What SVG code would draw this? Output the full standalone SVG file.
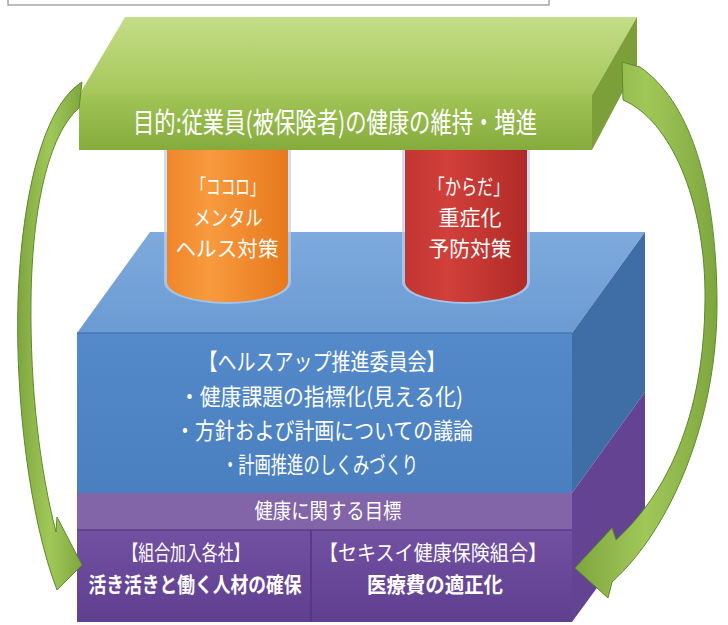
<svg xmlns="http://www.w3.org/2000/svg" width="728" height="625" viewBox="0 0 728 625">
<style>
.t{font-family:"Noto Sans CJK JP","Noto Sans",sans-serif;fill:#fff;text-anchor:middle;}
.b{font-weight:bold;}
.arrow{stroke:#5d8a2c;stroke-width:1;}
</style>
<defs>
<linearGradient id="gTop" x1="0" y1="0" x2="0" y2="1"><stop offset="0" stop-color="#c4dd88"/><stop offset="1" stop-color="#a6c65a"/></linearGradient>
<linearGradient id="gFront" x1="0" y1="0" x2="0" y2="1"><stop offset="0" stop-color="#a0c455"/><stop offset="1" stop-color="#86ab3d"/></linearGradient>
<linearGradient id="gOr" x1="0" y1="0" x2="1" y2="0"><stop offset="0" stop-color="#f0862a"/><stop offset="0.35" stop-color="#f89a3e"/><stop offset="1" stop-color="#e8781c"/></linearGradient>
<linearGradient id="gRed" x1="0" y1="0" x2="1" y2="0"><stop offset="0" stop-color="#c23531"/><stop offset="0.35" stop-color="#d1403a"/><stop offset="1" stop-color="#b12a27"/></linearGradient>
<linearGradient id="bTop" x1="0" y1="0" x2="0" y2="1"><stop offset="0" stop-color="#7eaadd"/><stop offset="1" stop-color="#6b9bd3"/></linearGradient>
<linearGradient id="bFront" x1="0" y1="0" x2="0" y2="1"><stop offset="0" stop-color="#548ac9"/><stop offset="1" stop-color="#4a7fc0"/></linearGradient>
<linearGradient id="pLow" x1="0" y1="0" x2="0" y2="1"><stop offset="0" stop-color="#7250a2"/><stop offset="1" stop-color="#5f3f90"/></linearGradient>
<linearGradient id="arr" x1="0" y1="0" x2="1" y2="0"><stop offset="0" stop-color="#7ea63f"/><stop offset="0.5" stop-color="#a0c858"/><stop offset="1" stop-color="#7ea63f"/></linearGradient>
</defs>
<rect width="728" height="625" fill="#fff"/>
<g id="header-box"><rect x="8" y="-10" width="541" height="15" fill="#fff" stroke="#a6a6a6" stroke-width="1.5"/></g>

<g id="committee">
<polygon points="77,333 572,333 645,232 150,232" fill="url(#bTop)"/>
<rect x="77" y="333" width="495" height="160" fill="url(#bFront)"/>
<polygon points="572,333 645,232 645,392 572,493" fill="#3f6da5"/>
<line x1="77" y1="333" x2="572" y2="333" stroke="#3d6aa0" stroke-width="1"/>
<text class="t" x="322" y="370" font-size="23" textLength="247" lengthAdjust="spacingAndGlyphs">【ヘルスアップ推進委員会】</text>
<text class="t" x="321" y="405" font-size="23" textLength="284" lengthAdjust="spacingAndGlyphs">・健康課題の指標化(見える化)</text>
<text class="t" x="324" y="439" font-size="23" textLength="298" lengthAdjust="spacingAndGlyphs">・方針および計画についての議論</text>
<text class="t" x="320" y="473" font-size="23" textLength="196" lengthAdjust="spacingAndGlyphs">・計画推進のしくみづくり</text>
</g>

<g id="health-target">
<polygon points="572,493 645,392 645,522 572,622" fill="#634392"/>
<rect x="77" y="493" width="495" height="37" fill="#8264a8"/>
<text class="t" x="328" y="518" font-size="21" textLength="147" lengthAdjust="spacingAndGlyphs">健康に関する目標</text>
</g>

<g id="member-companies">
<rect x="77" y="530" width="234" height="92" fill="url(#pLow)"/>
<text class="t" x="186" y="560" font-size="21" textLength="127" lengthAdjust="spacingAndGlyphs">【組合加入各社】</text>
<text class="t b" x="195" y="592" font-size="21" textLength="213" lengthAdjust="spacingAndGlyphs">活き活きと働く人材の確保</text>
</g>

<g id="sekisui-kenpo">
<rect x="311" y="530" width="261" height="92" fill="url(#pLow)"/>
<text class="t" x="433" y="560" font-size="21" textLength="228" lengthAdjust="spacingAndGlyphs">【セキスイ健康保険組合】</text>
<text class="t b" x="435" y="592" font-size="21" textLength="136" lengthAdjust="spacingAndGlyphs">医療費の適正化</text>
<line x1="77" y1="530" x2="572" y2="530" stroke="#5a3d88" stroke-width="1.5"/>
<line x1="311" y1="530" x2="311" y2="622" stroke="#52367e" stroke-width="1.5"/>
</g>

<g id="kokoro">
<path d="M164,150 L164,282 A63.5,22 0 0 0 291,282 L291,150 Z" fill="#b9d2ef" opacity="0.7"/>
<path d="M167,150 L167,282 A60.5,20 0 0 0 288,282 L288,150 Z" fill="url(#gOr)"/>
<text class="t" x="228" y="194" font-size="21" textLength="73" lengthAdjust="spacingAndGlyphs">「ココロ」</text>
<text class="t" x="228" y="225" font-size="21" textLength="69" lengthAdjust="spacingAndGlyphs">メンタル</text>
<text class="t" x="227" y="256" font-size="21" textLength="103" lengthAdjust="spacingAndGlyphs">ヘルス対策</text>
</g>

<g id="karada">
<path d="M402,150 L402,282 A64,22 0 0 0 530,282 L530,150 Z" fill="#b9d2ef" opacity="0.7"/>
<path d="M405,150 L405,282 A61,20 0 0 0 527,282 L527,150 Z" fill="url(#gRed)"/>
<text class="t" x="469" y="194" font-size="21" textLength="81" lengthAdjust="spacingAndGlyphs">「からだ」</text>
<text class="t" x="470" y="225" font-size="21" textLength="63" lengthAdjust="spacingAndGlyphs">重症化</text>
<text class="t" x="470" y="256" font-size="21" textLength="83" lengthAdjust="spacingAndGlyphs">予防対策</text>
</g>

<g id="goal">
<polygon points="79,95 592,95 637,17 125,17" fill="url(#gTop)"/>
<rect x="79" y="95" width="513" height="55" fill="url(#gFront)"/>
<polygon points="592,95 637,17 637,65 592,150" fill="#7d9f3a"/>
<text class="t" x="335" y="133" font-size="28" textLength="404" lengthAdjust="spacingAndGlyphs">目的:従業員(被保険者)の健康の維持・増進</text>
</g>

<g id="connectors">
<path class="arrow" fill="url(#arr)" d="M82,82 C45,105 22,190 18,300 C15,400 30,520 57,590 L82,565 L57,517 L56,532 C40,470 30,390 31,300 C32,210 48,135 79,108 Z"/>
<path class="arrow" fill="url(#arr)" d="M622,62 L640,67 C688,100 716,180 717,300 C718,420 670,530 612,582 L608,598 L575,568 L612,528 L616,540 C665,495 704,420 705,300 C706,200 670,120 623,100 Z"/>
</g>
</svg>
